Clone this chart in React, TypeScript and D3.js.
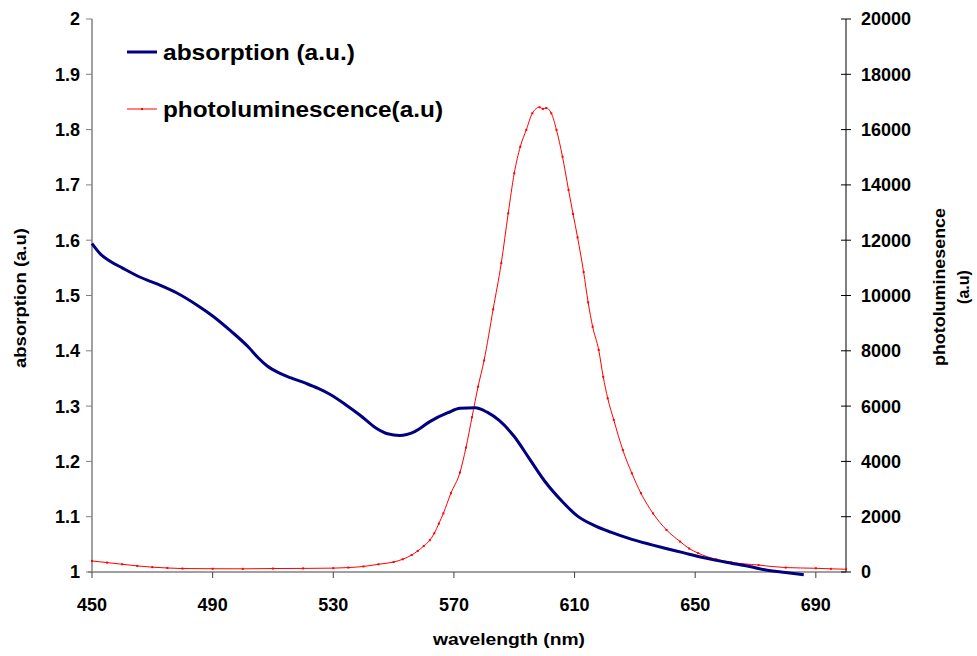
import React from 'react';
import * as d3 from 'd3';

const absWavelength = [450, 453, 456, 460, 466, 472, 478, 485, 490, 496, 502, 505, 508, 512, 516, 521, 525, 529, 534, 539, 544, 548, 552, 557, 562, 568, 572, 577, 581, 585, 590, 595, 600, 606, 611, 617, 622, 629, 635, 640, 646, 651, 657, 662, 668, 673, 680, 686];
const absorption = [1.594, 1.574, 1.562, 1.55, 1.533, 1.52, 1.505, 1.482, 1.463, 1.436, 1.406, 1.388, 1.373, 1.36, 1.351, 1.341, 1.332, 1.321, 1.303, 1.283, 1.261, 1.25, 1.247, 1.254, 1.272, 1.288, 1.296, 1.297, 1.289, 1.274, 1.245, 1.205, 1.165, 1.127, 1.101, 1.083, 1.072, 1.059, 1.05, 1.043, 1.035, 1.028, 1.021, 1.016, 1.01, 1.004, 0.999, 0.995];

const plWavelength = [450, 455, 460, 465, 470, 475, 480, 490, 500, 510, 520, 530, 535, 540, 545, 550, 553, 556, 558, 560, 562, 563.5, 565, 566.5, 569, 572, 574, 576, 578, 580, 583, 585.7, 588, 590, 592, 594, 596, 598.4, 599.5, 600.6, 602.3, 604, 606, 608, 609.5, 611, 613, 614.5, 616, 618, 619.5, 621, 623, 626, 629, 632, 636, 640.5, 645, 648, 651, 657, 662, 671, 680, 690, 695, 700];
const photoluminescence = [400, 340, 280, 220, 175, 145, 125, 118, 115, 125, 130, 140, 160, 200, 280, 360, 460, 615, 760, 940, 1150, 1400, 1750, 2120, 2850, 3600, 4500, 5600, 6700, 7650, 9500, 11170, 12970, 14420, 15380, 15990, 16590, 16810, 16750, 16780, 16590, 15990, 15020, 13820, 12950, 12100, 10850, 9750, 8870, 8030, 7060, 6280, 5500, 4410, 3570, 2850, 2120, 1520, 1100, 850, 680, 460, 350, 250, 160, 135, 115, 100];

const xTicks = [450, 490, 530, 570, 610, 650, 690];
const leftTicks = [1, 1.1, 1.2, 1.3, 1.4, 1.5, 1.6, 1.7, 1.8, 1.9, 2];
const rightTicks = [0, 2000, 4000, 6000, 8000, 10000, 12000, 14000, 16000, 18000, 20000];

const FONT = "'Liberation Sans', Arial, Helvetica, sans-serif";

export default function App() {
  const x = d3.scaleLinear().domain([450, 700]).range([92, 846]);
  const yL = d3.scaleLinear().domain([1, 2]).range([572, 19]);
  const yR = d3.scaleLinear().domain([0, 20000]).range([572, 19]);

  const absData = absWavelength.map((w, i) => [w, absorption[i]] as [number, number]);
  const plData = plWavelength.map((w, i) => [w, photoluminescence[i]] as [number, number]);

  const absLine = d3.line<[number, number]>()
    .x(d => x(d[0]))
    .y(d => yL(d[1]))
    .curve(d3.curveMonotoneX);
  const plLine = d3.line<[number, number]>()
    .x(d => x(d[0]))
    .y(d => yR(d[1]))
    .curve(d3.curveMonotoneX);

  const fmtLeft = (v: number) => String(Math.round(v * 10) / 10);

  return (
    <svg width={977} height={656} style={{ position: 'absolute', left: 0, top: 0, background: '#fff' }}
      fontFamily={FONT} fontWeight="bold">
      <rect x={0} y={0} width={977} height={656} fill="#fff" />

      {/* left axis */}
      <line x1={x(450)} x2={x(450)} y1={yL(2)} y2={yL(1)} stroke="#808080" strokeWidth={1.5} />
      {leftTicks.map(t => (
        <g key={'l' + t}>
          <line x1={x(450) - 6} x2={x(450)} y1={yL(t)} y2={yL(t)} stroke="#808080" strokeWidth={1} />
          <text x={80} y={yL(t)} dy="0.36em" textAnchor="end" fontSize={18}>{fmtLeft(t)}</text>
        </g>
      ))}

      {/* bottom axis */}
      <line x1={x(450) - 4} x2={x(700)} y1={yL(1)} y2={yL(1)} stroke="#808080" strokeWidth={1.5} />
      {xTicks.map(t => (
        <g key={'x' + t}>
          <line x1={x(t)} x2={x(t)} y1={yL(1)} y2={yL(1) + 6} stroke="#404040" strokeWidth={1} />
          <text x={x(t)} y={611} textAnchor="middle" fontSize={18}>{t}</text>
        </g>
      ))}

      {/* right axis */}
      <line x1={x(700)} x2={x(700)} y1={yR(20000)} y2={yR(0)} stroke="#000" strokeWidth={1} />
      {rightTicks.map(t => (
        <g key={'r' + t}>
          <line x1={x(700) - 5} x2={x(700) + 5} y1={yR(t)} y2={yR(t)} stroke="#000" strokeWidth={1} />
          <text x={861} y={yR(t)} dy="0.36em" textAnchor="start" fontSize={18}>{t}</text>
        </g>
      ))}

      {/* series */}
      <path d={plLine(plData) || ''} fill="none" stroke="#ff0000" strokeWidth={1} />
      {plData.map((d, i) => (
        <rect key={'m' + i} x={x(d[0]) - 1} y={yR(d[1]) - 1} width={2} height={2} fill="#ff0000" />
      ))}
      <path d={absLine(absData) || ''} fill="none" stroke="#000080" strokeWidth={3} strokeLinejoin="round" />

      {/* legend */}
      <line x1={127} x2={157} y1={52} y2={52} stroke="#000080" strokeWidth={3} />
      <text x={163} y={60} fontSize={22} textLength={192} lengthAdjust="spacingAndGlyphs">absorption (a.u.)</text>
      <line x1={127} x2={157} y1={109} y2={109} stroke="#ff0000" strokeWidth={1} />
      <rect x={141} y={108} width={2} height={2} fill="#ff0000" />
      <text x={163} y={117} fontSize={22} textLength={280} lengthAdjust="spacingAndGlyphs">photoluminescence(a.u)</text>

      {/* axis titles */}
      <text x={509} y={645} textAnchor="middle" fontSize={16} textLength={152} lengthAdjust="spacingAndGlyphs">wavelength (nm)</text>
      <text transform="translate(26,298) rotate(-90)" textAnchor="middle" fontSize={16} textLength={140} lengthAdjust="spacingAndGlyphs">absorption (a.u)</text>
      <text transform="translate(945,287) rotate(-90)" textAnchor="middle" fontSize={16} textLength={158} lengthAdjust="spacingAndGlyphs">photoluminesence</text>
      <text transform="translate(969,287) rotate(-90)" textAnchor="middle" fontSize={16}>(a.u)</text>
    </svg>
  );
}
